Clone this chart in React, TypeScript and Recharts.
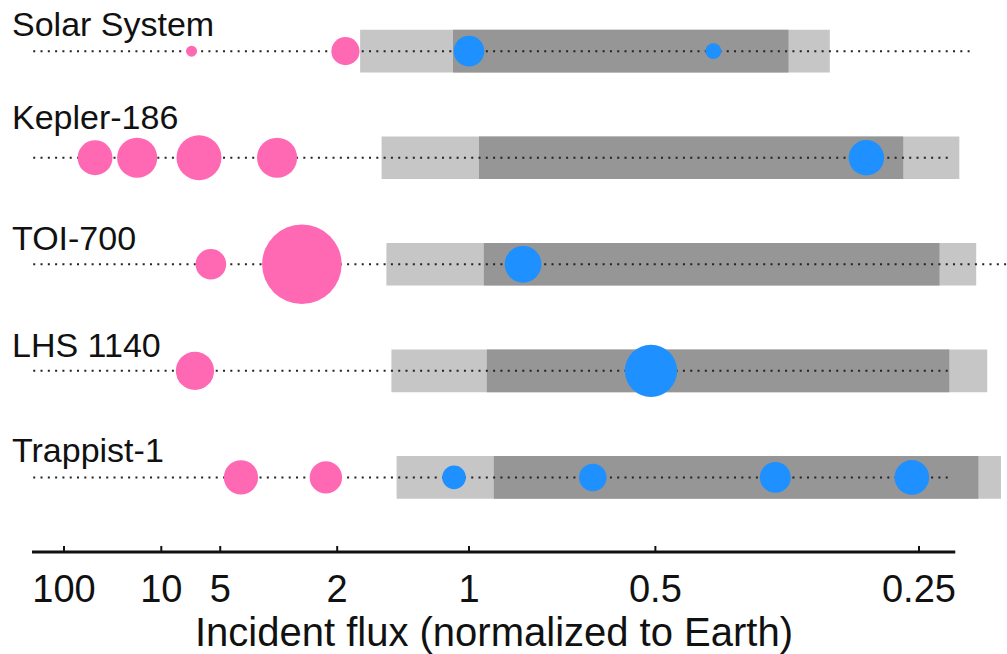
import React from "react";
import {ComposedChart, Label, ReferenceArea, ReferenceLine, Scatter, XAxis, YAxis} from "recharts";

const systems = ["Solar System", "Kepler-186", "TOI-700", "LHS 1140", "Trappist-1"];

// habitable zone edges, incident flux (Earth = 1)
const optimisticInner = [1.74, 1.54, 1.5, 1.46, 1.42];
const optimisticOuter = [0.308, 0.229, 0.221, 0.216, 0.21];
const conservativeInner = [1.075, 0.957, 0.937, 0.925, 0.898];
const conservativeOuter = [0.342, 0.259, 0.239, 0.234, 0.22];

// dotted guide per system
const guideStart = [1000, 1000, 1000, 1000, 1000];
const guideEnd = [0.222, 0.233, 0.205, 0.233, 0.233];

const planetFlux = [
    [6.8, 1.9, 1.0, 0.42],
    [35, 14.5, 6.25, 3.04, 0.282],
    [5.5, 2.53, 0.797],
    [6.54, 0.507],
    [4.11, 2.15, 1.07, 0.615, 0.354, 0.254],
];
const planetRadius = [
    [0.36, 0.92, 1.0, 0.52],
    [1.14, 1.31, 1.47, 1.31, 1.16],
    [1.0, 2.6, 1.2],
    [1.25, 1.71],
    [1.12, 1.06, 0.77, 0.9, 1.01, 1.13],
];
const planetTemperate = [
    [false, false, true, true],
    [false, false, false, false, true],
    [false, false, true],
    [false, true],
    [false, false, true, true, true, true],
];

const tickFlux = [100, 10, 5, 2, 1, 0.5, 0.25];
const tickLabels = ["100", "10", "5", "2", "1", "0.5", "0.25"];
const axisFlux = [1200, 0.231];

// x position goes with distance, ~ 1/sqrt(flux)
const pos = (f: number) => 1 / Math.sqrt(f);

const FONT = "'Liberation Sans', Arial, Helvetica, sans-serif";
const PINK = "#ff69b4";
const BLUE = "#1e90ff";
const PX_PER_RE = 15.3;
const Y_MAX = 4.7;
const HALF = 0.2;
const labelDy = [-15, -29, -14, -14, -15];

const planets = planetFlux.flatMap((row, i) =>
    row.map((f, j) => ({x: pos(f), y: i, r: planetRadius[i][j], temperate: planetTemperate[i][j]})));
const hot = planets.filter(p => !p.temperate);
const temperate = planets.filter(p => p.temperate);

const Planet = (color: string) => (props: any) =>
    <circle cx={props.cx} cy={props.cy} r={props.payload.r * PX_PER_RE} fill={color}/>;

const XTick = (props: any) => <g>
    <line x1={props.x} x2={props.x} y1={props.y - 6} y2={props.y} stroke="#111" strokeWidth={2}/>
    <text x={props.x} y={props.y + 50} textAnchor="middle" fontSize={38} fontFamily={FONT} fill="#111">
        {tickLabels[props.index]}
    </text>
</g>;

const RowLabel = (props: any) =>
    <text x={12} y={props.y + labelDy[props.index]} fontSize={34} fontFamily={FONT} fill="#111">
        {systems[props.index]}
    </text>;

export default function App() {
    return <div style={{position: "absolute", left: 0, top: 0}}>
        <ComposedChart width={1007} height={654} margin={{top: 0, right: 0, left: -1, bottom: 0}}>
            <XAxis dataKey="x" type="number" domain={[-0.0422, 2.1956]} allowDataOverflow
                   ticks={tickFlux.map(pos)} axisLine={false} tickLine={false} tickSize={0} tickMargin={0}
                   height={102} tick={XTick} interval={0}>
                <Label content={() => <text x={494} y={646} textAnchor="middle" fontSize={40}
                                            fontFamily={FONT} fill="#111">Incident flux (normalized to Earth)</text>}/>
            </XAxis>
            <YAxis dataKey="y" type="number" domain={[-0.48, Y_MAX]} reversed allowDataOverflow
                   ticks={[0, 1, 2, 3, 4]} width={1} axisLine={false} tickLine={false} tickSize={0}
                   tick={RowLabel} interval={0}/>
            {systems.map((s, i) =>
                <ReferenceArea key={"o" + s} x1={pos(optimisticInner[i])} x2={pos(optimisticOuter[i])}
                               y1={i - HALF} y2={i + HALF} fill="#c6c6c6" fillOpacity={1} stroke="none"
                               ifOverflow="visible"/>)}
            {systems.map((s, i) =>
                <ReferenceArea key={"c" + s} x1={pos(conservativeInner[i])} x2={pos(conservativeOuter[i])}
                               y1={i - HALF} y2={i + HALF} fill="#969696" fillOpacity={1} stroke="none"
                               ifOverflow="visible"/>)}
            {systems.map((s, i) =>
                <ReferenceLine key={"g" + s} segment={[{x: pos(guideStart[i]), y: i}, {x: pos(guideEnd[i]), y: i}]}
                               stroke="#222" strokeWidth={2} strokeDasharray="2 5.3" ifOverflow="visible"/>)}
            <ReferenceLine segment={[{x: pos(axisFlux[0]), y: Y_MAX}, {x: pos(axisFlux[1]), y: Y_MAX}]}
                           stroke="#111" strokeWidth={3} ifOverflow="visible"/>
            <Scatter data={hot} shape={Planet(PINK)} isAnimationActive={false}/>
            <Scatter data={temperate} shape={Planet(BLUE)} isAnimationActive={false}/>
        </ComposedChart>
    </div>;
}
